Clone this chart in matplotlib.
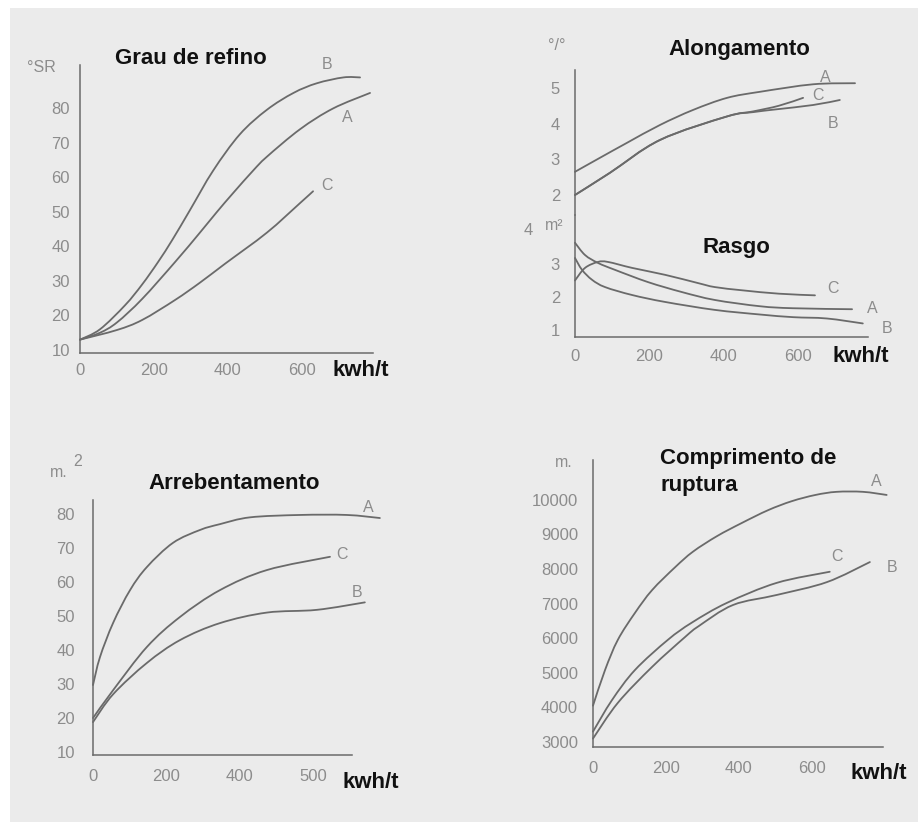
import matplotlib
matplotlib.use("Agg")
import matplotlib.pyplot as plt
from matplotlib.patches import Rectangle, PathPatch
from matplotlib.path import Path

W, H = 918, 822
DPI = 100

# ---------------- data ----------------
# Grau de refino (°SR)
refino_xA = [0, 54, 100, 168, 257, 324, 370, 414, 468, 505, 595, 684, 784]
refino_yA = [13, 15, 18, 24.8, 35.5, 44, 50, 55.5, 62, 66, 74, 80, 84.5]
refino_xB = [0, 54, 122, 168, 211, 250, 297, 360, 432, 505, 577, 640, 712, 757]
refino_yB = [13, 16, 23, 29, 35.5, 42, 50.5, 62, 72.5, 79.6, 84.5, 87.3, 89, 89]
refino_xC = [0, 100, 168, 257, 324, 392, 505, 595, 630]
refino_yC = [13, 15.8, 18.7, 24.5, 29.5, 35, 44, 52.6, 56]

# Alongamento (%)
along_xA = [0, 67, 140, 229, 318, 410, 499, 642, 755]
along_yA = [2.65, 3.04, 3.46, 3.96, 4.38, 4.72, 4.89, 5.1, 5.13]
along_xB = [0, 94, 229, 410, 480, 544, 642, 714]
along_yB = [2.0, 2.62, 3.54, 4.2, 4.32, 4.4, 4.52, 4.66]
along_xC = [0, 94, 229, 410, 480, 550, 615]
along_yC = [2.0, 2.62, 3.54, 4.2, 4.34, 4.5, 4.72]

# Rasgo
rasgo_xA = [0, 27, 62, 108, 197, 288, 377, 499, 588, 747]
rasgo_yA = [3.64, 3.27, 3.03, 2.82, 2.45, 2.15, 1.91, 1.72, 1.66, 1.63]
rasgo_xB = [0, 19, 46, 81, 154, 243, 377, 499, 588, 679, 776]
rasgo_yB = [3.18, 2.82, 2.52, 2.3, 2.06, 1.85, 1.61, 1.47, 1.39, 1.35, 1.2]
rasgo_xC = [0, 27, 62, 89, 154, 243, 332, 377, 453, 550, 647]
rasgo_yC = [2.5, 2.88, 3.06, 3.06, 2.88, 2.67, 2.42, 2.3, 2.2, 2.1, 2.05]

# Arrebentamento
arreb_xA = [0, 19, 55, 101, 147, 218, 292, 346, 428, 564, 692, 782]
arreb_yA = [29.7, 37.9, 48, 57.6, 64.4, 71.5, 75.3, 77, 79, 79.7, 79.7, 78.8]
arreb_xB = [0, 55, 147, 237, 346, 474, 610, 741]
arreb_yB = [18.8, 27, 36.2, 42.9, 47.9, 51, 51.8, 54]
arreb_xC = [0, 55, 147, 237, 346, 474, 646]
arreb_yC = [20, 28.2, 40.9, 49.7, 57.6, 63.5, 67.4]

# Comprimento de ruptura (m)
compr_xA = [0, 33, 68, 115, 162, 225, 274, 340, 408, 480, 545, 610, 668, 740, 805]
compr_yA = [4050, 5080, 5950, 6730, 7390, 8050, 8500, 8950, 9330, 9700, 9960,
            10140, 10230, 10230, 10140]
compr_xB = [0, 68, 162, 252, 290, 384, 504, 641, 759]
compr_yB = [3100, 4130, 5170, 6030, 6350, 6960, 7250, 7620, 8200]
compr_xC = [0, 52, 115, 205, 271, 367, 504, 649]
compr_yC = [3300, 4210, 5080, 5950, 6450, 7020, 7600, 7920]

x_ticks = [0, 200, 400, 600]
x_labels = ["0", "200", "400", "600"]
x_labels_arreb = ["0", "200", "400", "500"]
refino_ticks = [10, 20, 30, 40, 50, 60, 70, 80]
along_ticks = [2, 3, 4, 5]
rasgo_ticks = [1, 2, 3]
rasgo_top_tick = 4
arreb_ticks = [10, 20, 30, 40, 50, 60, 70, 80]
compr_ticks = [3000, 4000, 5000, 6000, 7000, 8000, 9000, 10000]

# ---------------- style ----------------
BG = "#ebebeb"
INK = "#6a6a6a"
TICK = "#8c8c8c"
TITLE = "#111111"
TICKFONT = ["Liberation Sans Narrow", "Liberation Sans", "DejaVu Sans"]
TITLEFONT = ["Liberation Sans", "DejaVu Sans"]
TICKSIZE = 12

fig = plt.figure(figsize=(W / DPI, H / DPI), dpi=DPI)
fig.patch.set_facecolor(BG)
fig.patches.append(Rectangle((0, 1 - 8 / H), 1, 8 / H, transform=fig.transFigure,
                             facecolor="white", edgecolor="none", zorder=-1))
fig.patches.append(Rectangle((0, 0), 10 / W, 1, transform=fig.transFigure,
                             facecolor="white", edgecolor="none", zorder=-1))


def px(v):
    return v * 72.0 / DPI


def make_axes(left, top, right, bottom, xlim, ylim, bottom_spine=True):
    ax = fig.add_axes([left / W, 1 - bottom / H, (right - left) / W, (bottom - top) / H])
    ax.set_facecolor("none")
    ax.set_xlim(*xlim)
    ax.set_ylim(*ylim)
    for s in ("top", "right"):
        ax.spines[s].set_visible(False)
    ax.spines["bottom"].set_visible(bottom_spine)
    for s in ("left", "bottom"):
        ax.spines[s].set_color(INK)
        ax.spines[s].set_linewidth(1.1)
    ax.tick_params(length=0, colors=TICK, labelsize=TICKSIZE)
    return ax


def style_ticks(ax, xpad, ypad):
    ax.tick_params(axis="x", pad=px(xpad))
    ax.tick_params(axis="y", pad=px(ypad))
    for lab in ax.get_xticklabels() + ax.get_yticklabels():
        lab.set_family(TICKFONT)
        lab.set_color(TICK)


def smooth_path(x, y):
    """Smooth Bezier path passing through every (x, y) point."""
    pts = list(zip(x, y))
    n = len(pts)
    verts = [pts[0]]
    codes = [Path.MOVETO]
    for i in range(n - 1):
        p0 = pts[i - 1] if i > 0 else pts[i]
        p1 = pts[i]
        p2 = pts[i + 1]
        p3 = pts[i + 2] if i + 2 < n else pts[i + 1]
        c1 = (p1[0] + (p2[0] - p0[0]) / 6.0, p1[1] + (p2[1] - p0[1]) / 6.0)
        c2 = (p2[0] - (p3[0] - p1[0]) / 6.0, p2[1] - (p3[1] - p1[1]) / 6.0)
        verts += [c1, c2, p2]
        codes += [Path.CURVE4] * 3
    return Path(verts, codes)


def curve(ax, x, y, label, dx, dy):
    patch = PathPatch(smooth_path(x, y), facecolor="none", edgecolor=INK,
                      lw=1.3, clip_on=False, capstyle="round")
    ax.add_patch(patch)
    ax.annotate(label, xy=(x[-1], y[-1]), xytext=(px(dx), px(-dy)),
                textcoords="offset points", ha="center", va="center",
                color=TICK, fontsize=TICKSIZE - 0.5, family=TICKFONT,
                annotation_clip=False)


def ftext(x, y, s, **kw):
    fig.text(x / W, 1 - y / H, s, **kw)


title_kw = dict(color=TITLE, fontsize=16, fontweight="bold", family=TITLEFONT,
                ha="left", va="center")
unit_kw = dict(color=TICK, fontsize=TICKSIZE - 0.5, family=TICKFONT, ha="left", va="center")

# ---- Grau de refino ----
ax1 = make_axes(80, 65, 373, 353, (0, 792), (9.13, 92.6))
ax1.set_xticks(x_ticks, x_labels)
ax1.set_yticks(refino_ticks)
style_ticks(ax1, 10, 10)
curve(ax1, refino_xB, refino_yB, "B", -33, -13)
curve(ax1, refino_xA, refino_yA, "A", -23, 25)
curve(ax1, refino_xC, refino_yC, "C", 14, -6)
ftext(115, 58, "Grau de refino", **title_kw)
ftext(333, 370, "kwh/t", **title_kw)
ftext(27, 68, "°SR", **unit_kw)

# ---- Alongamento / Rasgo ----
ax2 = make_axes(575, 70, 868, 215, (0, 790), (1.44, 5.5), bottom_spine=False)
ax2.set_xticks([])
ax2.set_yticks(along_ticks)
style_ticks(ax2, 12, 15)
curve(ax2, along_xA, along_yA, "A", -30, -6)
curve(ax2, along_xB, along_yB, "B", -7, 23)
curve(ax2, along_xC, along_yC, "C", 15, -2)

ax3 = make_axes(575, 215, 868, 337, (0, 790), (0.79, 4.48))
ax3.set_xticks(x_ticks, x_labels)
ax3.set_yticks(rasgo_ticks)
style_ticks(ax3, 12, 15)
ax3.annotate(str(rasgo_top_tick), xy=(0, rasgo_top_tick), xytext=(px(-47), 0),
             textcoords="offset points", ha="center", va="center",
             color=TICK, fontsize=TICKSIZE, family=TICKFONT, annotation_clip=False)
curve(ax3, rasgo_xC, rasgo_yC, "C", 18, -7)
curve(ax3, rasgo_xA, rasgo_yA, "A", 20, -1)
curve(ax3, rasgo_xB, rasgo_yB, "B", 24, 5)
ftext(668, 50, "Alongamento", **title_kw)
ftext(703, 247, "Rasgo", **title_kw)
ftext(832, 357, "kwh/t", **title_kw)
ftext(548, 45, "°/°", **unit_kw)
ftext(545, 226, "m²", **unit_kw)

# ---- Arrebentamento ----
ax4 = make_axes(93, 500, 352, 755, (0, 706), (9.12, 84.1))
ax4.set_xticks(x_ticks, x_labels_arreb)
ax4.set_yticks(arreb_ticks)
style_ticks(ax4, 14, 18)
curve(ax4, arreb_xA, arreb_yA, "A", -12, -11)
curve(ax4, arreb_xC, arreb_yC, "C", 12, -2)
curve(ax4, arreb_xB, arreb_yB, "B", -8, -10)
ftext(148, 483, "Arrebentamento", **title_kw)
ftext(343, 782, "kwh/t", **title_kw)
ftext(50, 472, "m.", **unit_kw)
ftext(73, 461, "2", **unit_kw)

# ---- Comprimento de ruptura ----
ax5 = make_axes(593, 460, 883, 747, (0, 795), (2855, 11150))
ax5.set_xticks(x_ticks, x_labels)
ax5.set_yticks(compr_ticks, [str(t) for t in compr_ticks])
style_ticks(ax5, 14, 15)
curve(ax5, compr_xA, compr_yA, "A", -10, -13)
curve(ax5, compr_xC, compr_yC, "C", 7, -15)
curve(ax5, compr_xB, compr_yB, "B", 22, 5)
ftext(660, 458, "Comprimento de", **title_kw)
ftext(660, 485, "ruptura", **title_kw)
ftext(850, 773, "kwh/t", **title_kw)
ftext(555, 462, "m.", **unit_kw)

fig.savefig("out.png", dpi=DPI, facecolor=fig.get_facecolor())
